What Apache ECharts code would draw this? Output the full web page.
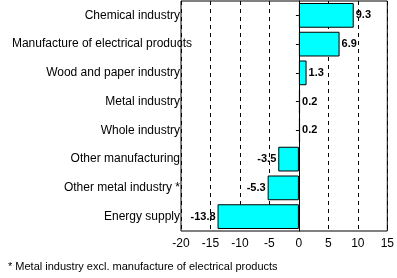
<!DOCTYPE html>
<html><head><meta charset="utf-8">
<script src="https://cdn.jsdelivr.net/npm/echarts@6/dist/echarts.min.js"></script>
<style>html,body{margin:0;padding:0;background:#fff;}#c{width:397px;height:278px;}</style>
</head><body><div id="c"></div>
<script>
const categories = ["Chemical industry","Manufacture of electrical products","Wood and paper industry","Metal industry","Whole industry","Other manufacturing","Other metal industry *","Energy supply"];
const values = [9.3, 6.9, 1.3, 0.2, 0.2, -3.5, -5.3, -13.8];
const footnote = "* Metal industry excl. manufacture of electrical products";
const xTicks = [-20,-15,-10,-5,0,5,10,15];

const chart = echarts.init(document.getElementById('c'), null, {renderer:'canvas'});
const font = "'Liberation Sans', Arial, sans-serif";
chart.setOption({
  animation:false,
  grid:{left:181, right:8, top:1, bottom:47, show:true, borderColor:'#000', borderWidth:1},
  xAxis:{type:'value', min:xTicks[0], max:xTicks[xTicks.length-1], interval:5,
    axisLine:{show:false}, axisTick:{show:false},
    axisLabel:{color:'#000', fontFamily:font, fontSize:12, margin:7},
    splitLine:{show:true, lineStyle:{color:'#000', type:[4,4], width:1}}
  },
  yAxis:{type:'category',
    data:categories.map(c=> c.length>30 ? {value:c, textStyle:{padding:[0,-12,0,0]}} : c),
    inverse:true,
    axisLine:{show:true, lineStyle:{color:'#000'}},
    axisTick:{show:true, alignWithLabel:true, length:3, lineStyle:{color:'#000'}},
    axisLabel:{color:'#000', fontFamily:font, fontSize:12, margin:1},
    splitLine:{show:false}
  },
  series:[{type:'bar', barWidth:'86%',
    data: values.map(v=>({value:v, label:{position: v<0?'left':'right'}})),
    itemStyle:{color:'#00FFFF', borderColor:'#000', borderWidth:1},
    label:{show:true, color:'#000', fontWeight:'bold', fontFamily:font, fontSize:11, distance:2,
      formatter:p=>String(p.value)},
    markLine:{silent:true, symbol:'none', label:{show:false}, lineStyle:{color:'#000', type:'solid', width:1},
      data:[{xAxis:0}]}
  }],
  graphic:[{type:'text', left:8, top:261, style:{text:footnote, fill:'#000', font:"11px "+font}}]
});
</script></body></html>
